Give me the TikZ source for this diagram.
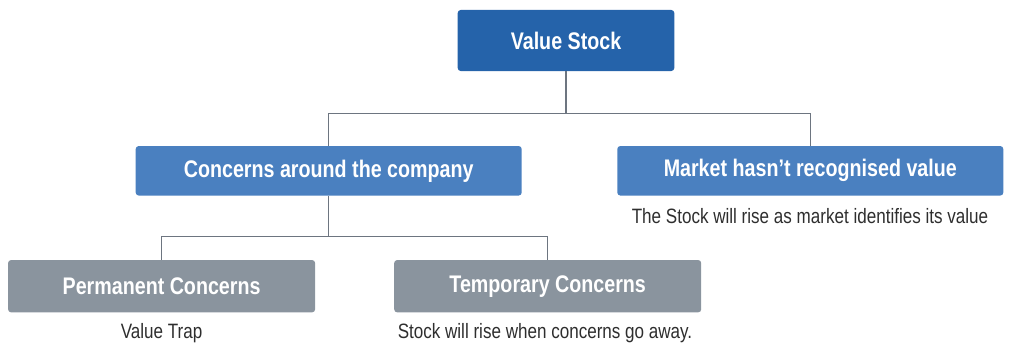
\documentclass[tikz,border=0pt]{standalone}
\usepackage{fontspec}
\setmainfont{Liberation Sans}[FakeStretch=0.82]
\usepackage{xcolor}
\usepackage{tikz}
\usetikzlibrary{calc}
\usetikzlibrary{shapes,arrows,positioning}
\usetikzlibrary{backgrounds}

\definecolor{topblue}{HTML}{2563AA}
\definecolor{midblue}{HTML}{4A80C0}
\definecolor{boxgray}{HTML}{8A949E}
\definecolor{linegray}{HTML}{6D7580}
\definecolor{notegray}{HTML}{2E2E2E}

\tikzset{
	box/.style={rounded corners=3pt,inner sep=0pt,text=white,font=\fontsize{24}{27}\selectfont\bfseries},
	topbox/.style={box,fill=topblue,minimum width=216.6pt,minimum height=61pt},
	midbox/.style={box,fill=midblue,minimum width=386pt,minimum height=49.5pt},
	lowbox/.style={box,fill=boxgray,minimum width=307pt,minimum height=52.3pt},
	note/.style={inner sep=0pt,text=notegray,font=\fontsize{20.8}{23}\selectfont},
	link/.style={draw=linegray,line width=1.5pt}
}

\begin{document}
\begin{tikzpicture}[x=1pt,y=-1pt]
	\useasboundingbox (0,0) rectangle (1011,345);
	\node[topbox] (vs) at (566,40.5) {Value Stock};
	\node[midbox] (cac) at (328.7,170.8) {Concerns around the company};
	\node[midbox] (mkt) at (810.3,170.8) {Market hasn’t recognised value};
	\node[lowbox] (perm) at (161.6,286.2) {Permanent Concerns};
	\node[lowbox] (temp) at (547.7,286.2) {Temporary Concerns};
	\node[note] (nmkt) at (810,216) {The Stock will rise as market identifies its value};
	\node[note] (nperm) at (161.6,333) {Value Trap};
	\node[note] (ntemp) at (545,333) {Stock will rise when concerns go away.};
	% connectors
	\coordinate (j1) at (566,113.3);
	\coordinate (j2) at (328.7,236.7);
	\draw[link] (vs.south) -- (j1) -| (cac.north);
	\draw[link] (j1) -| (mkt.north);
	\draw[link] (cac.south) -- (j2) -| (perm.north);
	\draw[link] (j2) -| (temp.north);
\end{tikzpicture}
\end{document}
